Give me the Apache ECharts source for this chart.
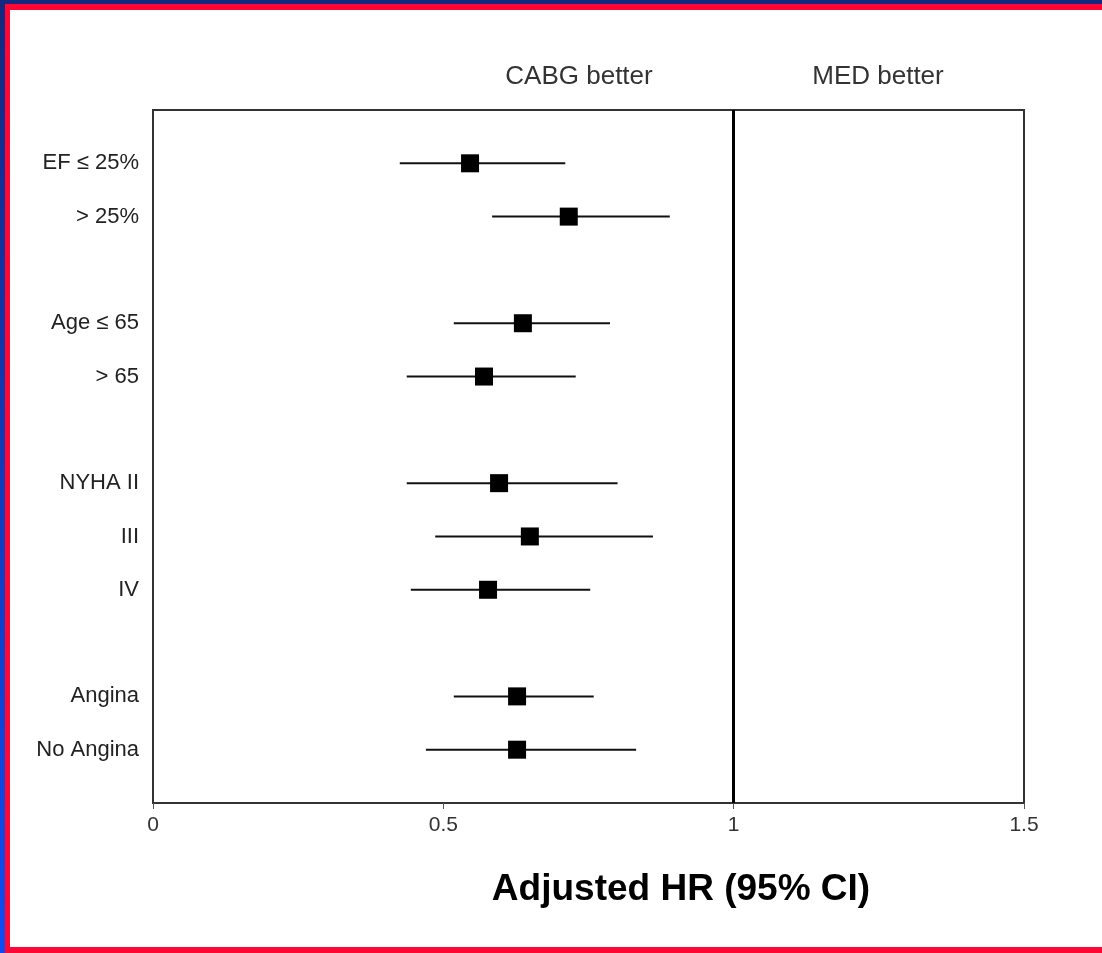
<!doctype html>
<html>
    <head>
        <meta charset="utf-8">
        <title>Adjusted HR forest plot</title>
        <script src="https://cdn.jsdelivr.net/npm/echarts@6/dist/echarts.min.js"></script>
        <style>
            html, body { margin: 0; padding: 0; background: #fff; }
            #main { width: 1102px; height: 953px; }
        </style>
    </head>
    <body>
        <div id="main"></div>
        <script>
            // rows of the y axis (blank rows are the gaps between groups)
            var rowLabels = ['', 'EF \u2264 25%', '> 25%', '', 'Age \u2264 65', '> 65', '', 'NYHA II', 'III', 'IV', '', 'Angina', 'No Angina', ''];

            // subgroups
            var subgroups = ['EF \u2264 25%', '> 25%', 'Age \u2264 65', '> 65', 'NYHA II', 'III', 'IV', 'Angina', 'No Angina'];
            var hrEst  = [0.546, 0.716, 0.637, 0.570, 0.596, 0.649, 0.577, 0.627, 0.627];
            var ciLow  = [0.425, 0.584, 0.518, 0.437, 0.437, 0.486, 0.444, 0.518, 0.470];
            var ciHigh = [0.710, 0.890, 0.787, 0.728, 0.800, 0.861, 0.753, 0.759, 0.832];

            var xTicks = [0, 0.5, 1, 1.5];

            var data = subgroups.map(function (name, i) {
                return [rowLabels.indexOf(name), ciLow[i], hrEst[i], ciHigh[i]];
            });

            var chart = echarts.init(document.getElementById('main'));

            var font = '"Liberation Sans", Arial, sans-serif';

            chart.setOption({
                backgroundColor: '#fff',
                animation: false,
                grid: {
                    left: 153,
                    right: 78,
                    top: 110,
                    bottom: 150,
                    show: true,
                    borderColor: '#333',
                    borderWidth: 2
                },
                xAxis: {
                    type: 'value',
                    min: 0,
                    max: 1.5,
                    interval: 0.5,
                    splitLine: { show: false },
                    axisLine: { show: true, lineStyle: { color: '#333', width: 2 } },
                    axisTick: { show: true, length: 6, lineStyle: { color: '#555' } },
                    axisLabel: {
                        margin: 12,
                        fontSize: 21,
                        fontFamily: font,
                        color: '#333',
                        formatter: function (v) {
                            return xTicks.indexOf(v) >= 0 ? String(v) : '';
                        }
                    }
                },
                yAxis: {
                    type: 'category',
                    data: rowLabels,
                    inverse: true,
                    boundaryGap: false,
                    axisLine: { show: true, lineStyle: { color: '#333', width: 2 } },
                    axisTick: { show: false },
                    splitLine: { show: false },
                    axisLabel: {
                        margin: 14,
                        fontSize: 22,
                        fontFamily: font,
                        color: '#222',
                        interval: 0
                    }
                },
                series: [{
                    type: 'custom',
                    data: data,
                    encode: { x: [1, 2, 3], y: 0 },
                    renderItem: function (params, api) {
                        var row = api.value(0);
                        var lo = api.coord([api.value(1), row]);
                        var est = api.coord([api.value(2), row]);
                        var hi = api.coord([api.value(3), row]);
                        var s = 18;
                        return {
                            type: 'group',
                            children: [{
                                type: 'line',
                                shape: { x1: lo[0], y1: lo[1], x2: hi[0], y2: hi[1] },
                                style: { stroke: '#111', lineWidth: 2 }
                            }, {
                                type: 'rect',
                                shape: { x: est[0] - s / 2, y: est[1] - s / 2, width: s, height: s },
                                style: { fill: '#000' }
                            }]
                        };
                    },
                    markLine: {
                        silent: true,
                        symbol: 'none',
                        label: { show: false },
                        lineStyle: { color: '#000', width: 3, type: 'solid' },
                        data: [{ xAxis: 1 }]
                    }
                }],
                graphic: [
                    // frame
                    { type: 'rect', shape: { x: 0, y: 0, width: 1102, height: 4 }, style: { fill: '#12297f' } },
                    { type: 'rect', shape: { x: 0, y: 4, width: 1102, height: 6 }, style: { fill: '#ff0634' } },
                    {
                        type: 'rect', shape: { x: 0, y: 0, width: 5, height: 953 },
                        style: {
                            fill: new echarts.graphic.LinearGradient(0, 0, 0, 1, [
                                { offset: 0, color: '#12297f' },
                                { offset: 1, color: '#0f4cf0' }
                            ])
                        }
                    },
                    { type: 'rect', shape: { x: 5, y: 4, width: 5, height: 949 }, style: { fill: '#ff0634' } },
                    { type: 'rect', shape: { x: 5, y: 947, width: 1097, height: 6 }, style: { fill: '#ff0634' } },
                    // header texts
                    {
                        type: 'text', x: 579, y: 77,
                        style: { text: 'CABG better', font: '26px ' + font, fill: '#333', align: 'center', verticalAlign: 'middle' }
                    },
                    {
                        type: 'text', x: 878, y: 77,
                        style: { text: 'MED better', font: '26px ' + font, fill: '#333', align: 'center', verticalAlign: 'middle' }
                    },
                    {
                        type: 'text', x: 681, y: 890,
                        style: { text: 'Adjusted HR (95% CI)', font: 'bold 37px ' + font, fill: '#000', align: 'center', verticalAlign: 'middle' }
                    }
                ]
            });

            window.addEventListener('resize', function () {
                chart.resize();
            });
        </script>
    </body>
</html>
